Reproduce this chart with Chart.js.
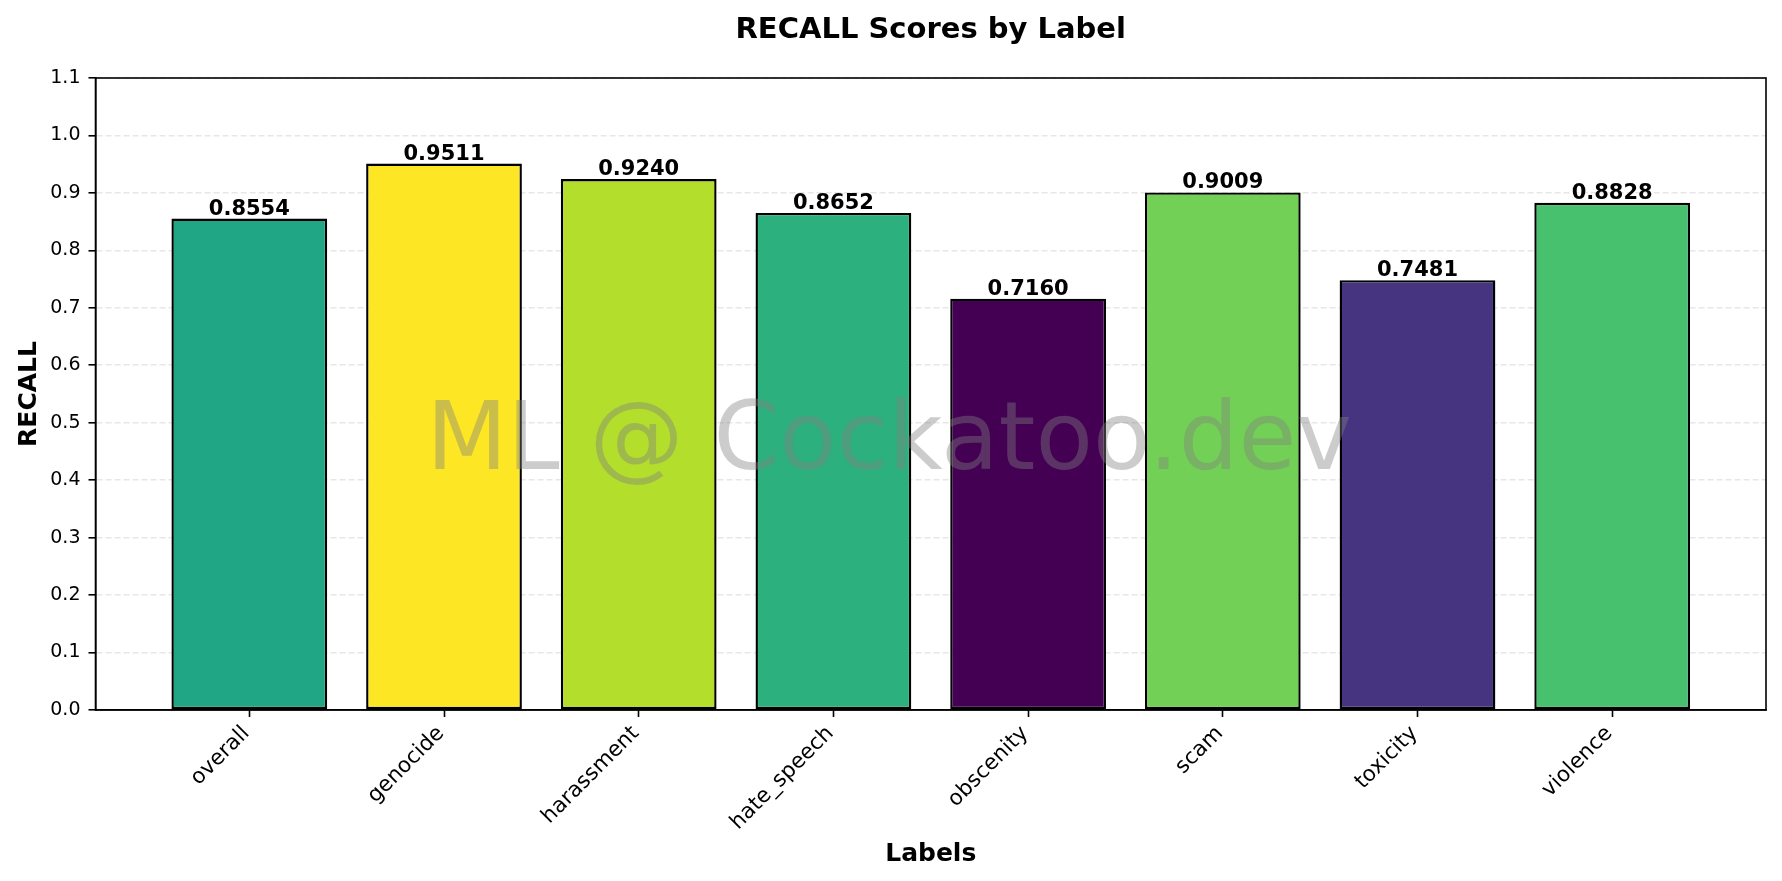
<!DOCTYPE html>
<html>
<head>
<meta charset="utf-8">
<title>RECALL Scores by Label</title>
<script src="https://cdn.jsdelivr.net/npm/chart.js@4.4.1/dist/chart.umd.min.js"></script>
<style>
  html, body { margin: 0; padding: 0; background: #fff; }
  #wrap { width: 1782px; height: 881px; position: relative; }
</style>
</head>
<body>
<div id="wrap"><canvas id="recallChart"></canvas></div>
<script>
// data
const labels = ['overall', 'genocide', 'harassment', 'hate_speech', 'obscenity', 'scam', 'toxicity', 'violence'];
const recall = [0.8554, 0.9511, 0.9240, 0.8652, 0.7160, 0.9009, 0.7481, 0.8828];
const barColors = ['#21a685', '#fde725', '#b3de2c', '#2cb17e', '#440154', '#73d056', '#463480', '#48c16e'];
const yMin = 0;
const yMax = 1.1;
const yStep = 0.1;

Chart.defaults.font.family = '"DejaVu Sans", sans-serif';
Chart.defaults.color = '#000';

// numbers on top of the bars
const valueLabels = {
  id: 'valueLabels',
  afterDatasetsDraw(chart) {
    const ctx = chart.ctx;
    const meta = chart.getDatasetMeta(0);
    ctx.save();
    ctx.font = 'bold 21px "DejaVu Sans"';
    ctx.fillStyle = '#000';
    ctx.textAlign = 'center';
    ctx.textBaseline = 'alphabetic';
    meta.data.forEach((bar, i) => {
      ctx.fillText(recall[i].toFixed(4), bar.x, bar.y - 4);
    });
    ctx.restore();
  }
};

// box round the plot area (top and right spines)
const frame = {
  id: 'frame',
  afterDraw(chart) {
    const {ctx, chartArea} = chart;
    ctx.save();
    ctx.strokeStyle = '#000';
    ctx.lineWidth = 1.6;
    ctx.strokeRect(chartArea.left, chartArea.top, chartArea.right - chartArea.left, chartArea.bottom - chartArea.top);
    ctx.restore();
  }
};

const watermark = {
  id: 'watermark',
  afterDraw(chart) {
    const ctx = chart.ctx;
    ctx.save();
    ctx.font = '94px "DejaVu Sans"';
    ctx.fillStyle = 'rgba(128,128,128,0.4)';
    ctx.textAlign = 'center';
    ctx.textBaseline = 'alphabetic';
    ctx.fillText('ML @ Cockatoo.dev', chart.width / 2 - 2, 469);
    ctx.restore();
  }
};

const points = labels.map((l, i) => ({x: i, y: recall[i]}));

new Chart(document.getElementById('recallChart'), {
  type: 'bar',
  data: {
    datasets: [{
      label: 'RECALL',
      data: points,
      backgroundColor: barColors,
      borderColor: '#000',
      borderWidth: 2.4,
      borderSkipped: false,
      categoryPercentage: 1.0,
      barPercentage: 0.8
    }]
  },
  options: {
    responsive: true,
    maintainAspectRatio: false,
    animation: false,
    layout: { padding: { left: 0, right: 16, top: 0, bottom: 0 } },
    plugins: {
      legend: { display: false },
      tooltip: { enabled: false },
      title: {
        display: true,
        text: 'RECALL Scores by Label',
        fullSize: false,
        color: '#000',
        font: { size: 29, weight: 'bold', lineHeight: 1.2 },
        padding: { top: 12.8, bottom: 30.4 }
      }
    },
    scales: {
      x: {
        type: 'linear',
        min: -0.79,
        max: 7.79,
        offset: false,
        afterFit: (scale) => { scale.height = 171; },
        grid: {
          offset: false,
          drawOnChartArea: false,
          drawTicks: true,
          tickLength: 7,
          tickColor: '#000',
          tickWidth: 1.6
        },
        border: { color: '#000', width: 1.6 },
        ticks: {
          stepSize: 1,
          includeBounds: false,
          autoSkip: false,
          maxRotation: 45,
          minRotation: 45,
          padding: 4,
          labelOffset: -3,
          font: { size: 21.5 },
          color: '#000',
          callback: (v) => Number.isInteger(v) ? labels[v] : ''
        },
        title: {
          display: true,
          text: 'Labels',
          color: '#000',
          font: { size: 25, weight: 'bold', lineHeight: 1.2 },
          padding: { top: 4, bottom: 11.2 }
        }
      },
      y: {
        min: yMin,
        max: yMax,
        z: 1,
        afterFit: (scale) => { scale.width = 95.5; },
        grid: {
          color: 'rgba(176,176,176,0.3)',
          lineWidth: 1.6,
          drawTicks: true,
          tickLength: 7,
          tickColor: '#000',
          tickWidth: 1.6,
          tickBorderDash: []
        },
        border: { color: '#000', width: 1.6, dash: [6, 3] },
        ticks: {
          stepSize: yStep,
          padding: 8,
          font: { size: 19 },
          color: '#000',
          callback: (v) => v.toFixed(1)
        },
        title: {
          display: true,
          text: 'RECALL',
          color: '#000',
          font: { size: 25, weight: 'bold', lineHeight: 1.2 },
          padding: { top: 14.5, bottom: 4 }
        }
      }
    }
  },
  plugins: [valueLabels, frame, watermark]
});
</script>
</body>
</html>
